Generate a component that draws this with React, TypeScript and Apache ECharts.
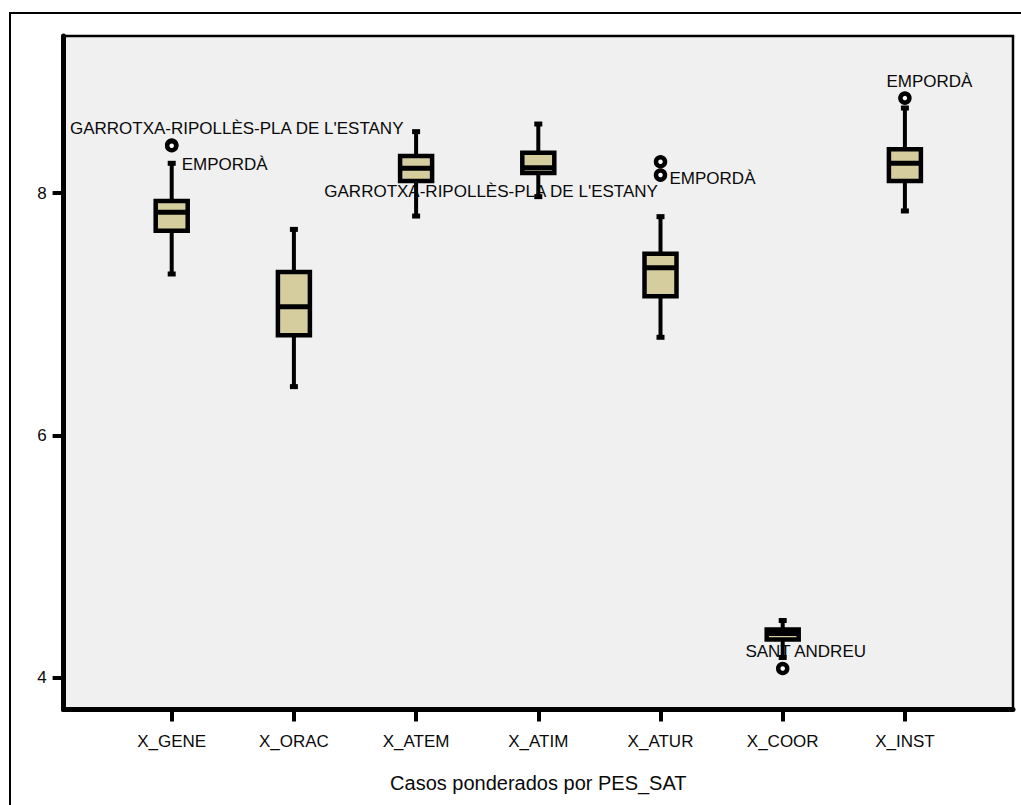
import React, { useEffect, useRef } from "react";
import * as echarts from "echarts";

// ---- data ----
const categories = ["X_GENE", "X_ORAC", "X_ATEM", "X_ATIM", "X_ATUR", "X_COOR", "X_INST"];
const whiskerLow = [7.332, 6.403, 7.81, 7.97, 6.81, 4.169, 7.852];
const quart1 = [7.689, 6.826, 8.1, 8.165, 7.148, 4.318, 8.1];
const medians = [7.841, 7.062, 8.204, 8.209, 7.384, 4.367, 8.245];
const quart3 = [7.934, 7.348, 8.305, 8.332, 7.5, 4.4, 8.36];
const whiskerHigh = [8.245, 7.7, 8.506, 8.569, 7.805, 4.474, 8.701];

const outlierCat = [0, 0, 4, 4, 5, 6];
const outlierVal = [8.396, 8.39, 8.258, 8.148, 4.078, 8.783];

const labelCat = [0, 0, 2, 4, 5, 6];
const labelVal = [8.396, 8.39, 8.0, 8.148, 4.078, 8.783];
const labelText = [
  "GARROTXA-RIPOLLÈS-PLA DE L'ESTANY",
  "EMPORDÀ",
  "GARROTXA-RIPOLLÈS-PLA DE L'ESTANY",
  "EMPORDÀ",
  "SANT ANDREU",
  "EMPORDÀ",
];

const yTicks = [4, 6, 8];
const xTitle = "Casos ponderados por PES_SAT";

// ---- layout / style (not data) ----
const labelOffsets: [number, number][] = [
  [65, -16],
  [53, 19],
  [75, -2],
  [52, 3],
  [23, -17],
  [24.5, -17],
];
const FONT = "'Liberation Sans', Arial, sans-serif";
const TAN = "#d6cd9e";
const INK = "#0a0a0a";

export default function App() {
  const ref = useRef<HTMLDivElement>(null);

  useEffect(() => {
    if (!ref.current) return;
    const chart = echarts.init(ref.current, undefined, { renderer: "svg" });

    const boxData = categories.map((_, i) => [
      i,
      whiskerLow[i],
      quart1[i],
      medians[i],
      quart3[i],
      whiskerHigh[i],
    ]);
    const outData = outlierCat.map((c, i) => [c, outlierVal[i]]);
    const lblData = labelCat.map((c, i) => ({
      value: [c, labelVal[i]],
      name: labelText[i],
      label: { offset: labelOffsets[i] },
    }));

    const option: any = {
      animation: false,
      backgroundColor: "#ffffff",
      textStyle: { fontFamily: FONT },
      graphic: [
        {
          type: "rect",
          shape: { x: 10, y: 13, width: 1100, height: 900 },
          style: { fill: "none", stroke: "#000", lineWidth: 2 },
          z: 100,
        },
      ],
      grid: [
        {
          left: 63.5,
          top: 36,
          right: 8,
          bottom: 95.5,
          show: true,
          backgroundColor: "#f0f0f0",
          borderColor: "#000",
          borderWidth: 2.5,
        },
        {
          left: 110.6,
          top: 36,
          width: 855.4,
          bottom: 95.5,
        },
      ],
      xAxis: [
        {
          gridIndex: 0,
          type: "value",
          min: 0,
          max: 1,
          axisLine: { show: true, onZero: false, lineStyle: { color: "#000", width: 5 } },
          axisTick: { show: false },
          axisLabel: { show: false },
          splitLine: { show: false },
        },
        {
          gridIndex: 1,
          type: "category",
          data: categories,
          boundaryGap: true,
          axisLine: { show: false, onZero: false },
          axisTick: {
            show: true,
            alignWithLabel: true,
            length: 12,
            lineStyle: { color: "#000", width: 4 },
          },
          axisLabel: { fontSize: 17, margin: 23, color: INK, fontFamily: FONT },
          name: xTitle,
          nameLocation: "middle",
          nameGap: 63,
          nameTextStyle: { fontSize: 20, color: INK, fontFamily: FONT },
          splitLine: { show: false },
        },
      ],
      yAxis: [
        {
          gridIndex: 0,
          type: "value",
          min: 0,
          max: 1,
          show: false,
        },
        {
          gridIndex: 1,
          type: "value",
          min: 3.74,
          max: 9.295,
          offset: 47,
          axisLine: { show: true, onZero: false, lineStyle: { color: "#000", width: 5 } },
          axisTick: {
            show: true,
            length: 11,
            customValues: yTicks,
            lineStyle: { color: "#000", width: 4 },
          },
          axisLabel: {
            customValues: yTicks,
            fontSize: 17,
            margin: 17,
            color: INK,
            fontFamily: FONT,
          },
          splitLine: { show: false },
        },
      ],
      series: [
        {
          type: "custom",
          xAxisIndex: 1,
          yAxisIndex: 1,
          encode: { x: 0, y: [1, 2, 3, 4, 5] },
          data: boxData,
          z: 3,
          renderItem: (params: any, api: any) => {
            const x = api.value(0);
            const lo = api.coord([x, api.value(1)]);
            const q1 = api.coord([x, api.value(2)]);
            const md = api.coord([x, api.value(3)]);
            const q3 = api.coord([x, api.value(4)]);
            const hi = api.coord([x, api.value(5)]);
            const cx = lo[0];
            const bw = 32;
            const cap = 4;
            const stroke = { stroke: "#000", lineWidth: 4 };
            return {
              type: "group",
              children: [
                { type: "line", shape: { x1: cx, y1: hi[1], x2: cx, y2: q3[1] }, style: stroke },
                { type: "line", shape: { x1: cx, y1: q1[1], x2: cx, y2: lo[1] }, style: stroke },
                {
                  type: "line",
                  shape: { x1: cx - cap, y1: hi[1], x2: cx + cap, y2: hi[1] },
                  style: { stroke: "#000", lineWidth: 5 },
                },
                {
                  type: "line",
                  shape: { x1: cx - cap, y1: lo[1], x2: cx + cap, y2: lo[1] },
                  style: { stroke: "#000", lineWidth: 5 },
                },
                {
                  type: "rect",
                  shape: { x: cx - bw / 2, y: q3[1], width: bw, height: q1[1] - q3[1] },
                  style: { fill: TAN, stroke: "#000", lineWidth: 4.5 },
                },
                {
                  type: "line",
                  shape: { x1: cx - bw / 2, y1: md[1], x2: cx + bw / 2, y2: md[1] },
                  style: { stroke: "#000", lineWidth: 5 },
                },
              ],
            };
          },
        },
        {
          type: "scatter",
          xAxisIndex: 1,
          yAxisIndex: 1,
          data: outData,
          symbol: "circle",
          symbolSize: 9,
          itemStyle: { color: "#ffffff", borderColor: "#000", borderWidth: 4.5, opacity: 1 },
          z: 5,
        },
        {
          type: "scatter",
          xAxisIndex: 1,
          yAxisIndex: 1,
          data: lblData,
          symbolSize: 1,
          itemStyle: { color: "rgba(0,0,0,0)", opacity: 1 },
          z: 6,
          label: {
            show: true,
            position: "inside",
            formatter: (p: any) => p.name,
            fontSize: 17,
            color: INK,
            fontFamily: FONT,
            align: "center",
            verticalAlign: "middle",
          },
        },
      ],
    };

    chart.setOption(option);
    return () => chart.dispose();
  }, []);

  return (
    <div
      ref={ref}
      style={{ position: "fixed", left: 0, top: 0, width: 1021, height: 805 }}
    />
  );
}
